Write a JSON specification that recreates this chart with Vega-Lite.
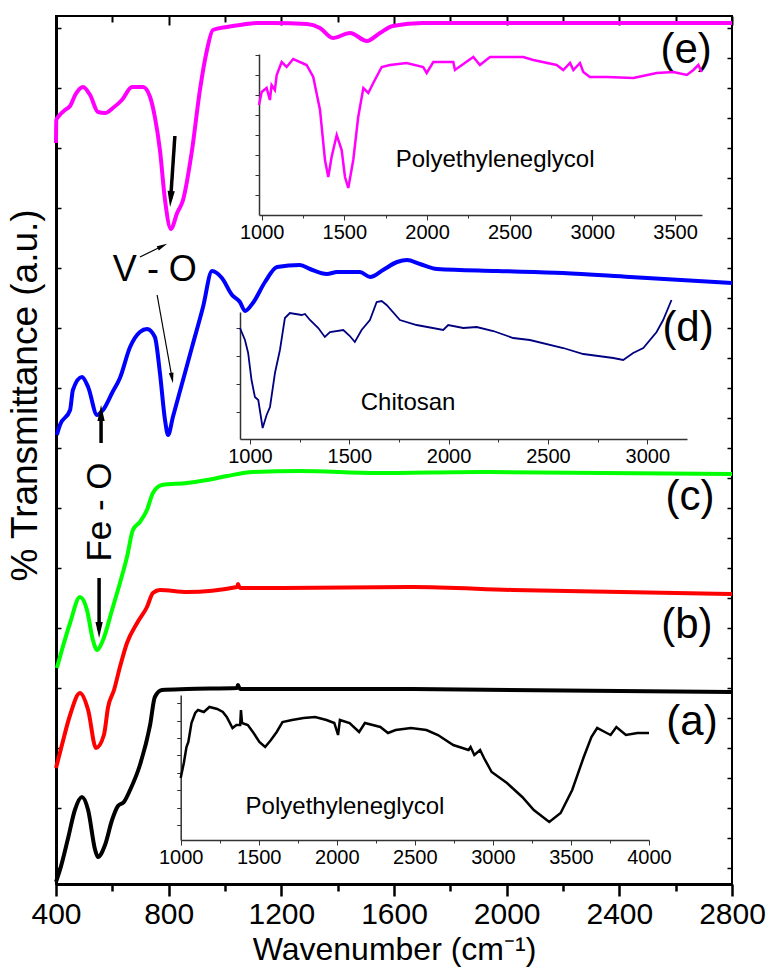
{
  "$schema": "https://vega.github.io/schema/vega-lite/v6.json",
  "width": 676,
  "height": 868,
  "autosize": {"type": "none"},
  "padding": {"left": 56, "top": 16, "right": 41, "bottom": 84},
  "config": {
    "view": {"stroke": "black", "strokeWidth": 2},
    "font": "Liberation Sans",
    "axis": {"grid": false, "domainColor": "black", "tickColor": "black", "labelColor": "black", "titleColor": "black", "labelOverlap": false, "labelFlush": false, "titleFontWeight": "normal"}
  },
  "datasets": {
    "main": [
      {"s":"e","wn":400,"v":741},{"s":"e","wn":401,"v":764},{"s":"e","wn":410,"v":768},{"s":"e","wn":432,"v":774},{"s":"e","wn":450,"v":778},{"s":"e","wn":470,"v":790},{"s":"e","wn":496,"v":797},{"s":"e","wn":521,"v":789},{"s":"e","wn":549,"v":772},{"s":"e","wn":574,"v":771},{"s":"e","wn":602,"v":776},{"s":"e","wn":634,"v":784},{"s":"e","wn":670,"v":797},{"s":"e","wn":709,"v":797},{"s":"e","wn":734,"v":787},{"s":"e","wn":751,"v":767},{"s":"e","wn":769,"v":734},{"s":"e","wn":787,"v":684},{"s":"e","wn":808,"v":655},{"s":"e","wn":830,"v":671},{"s":"e","wn":851,"v":684},{"s":"e","wn":883,"v":734},{"s":"e","wn":911,"v":794},{"s":"e","wn":936,"v":834},{"s":"e","wn":957,"v":854},{"s":"e","wn":1007,"v":857},{"s":"e","wn":1053,"v":859},{"s":"e","wn":1114,"v":861},{"s":"e","wn":1170,"v":861},{"s":"e","wn":1291,"v":860},{"s":"e","wn":1337,"v":856},{"s":"e","wn":1383,"v":846},{"s":"e","wn":1444,"v":851},{"s":"e","wn":1504,"v":843},{"s":"e","wn":1550,"v":851},{"s":"e","wn":1596,"v":858},{"s":"e","wn":1703,"v":861},{"s":"e","wn":2235,"v":861},{"s":"e","wn":2800,"v":861},
      {"s":"d","wn":403,"v":449},{"s":"d","wn":414,"v":459},{"s":"d","wn":450,"v":474},{"s":"d","wn":460,"v":494},{"s":"d","wn":492,"v":507},{"s":"d","wn":514,"v":497},{"s":"d","wn":546,"v":469},{"s":"d","wn":567,"v":474},{"s":"d","wn":599,"v":491},{"s":"d","wn":627,"v":506},{"s":"d","wn":663,"v":537},{"s":"d","wn":698,"v":552},{"s":"d","wn":723,"v":555},{"s":"d","wn":751,"v":547},{"s":"d","wn":769,"v":511},{"s":"d","wn":787,"v":464},{"s":"d","wn":798,"v":449},{"s":"d","wn":815,"v":467},{"s":"d","wn":851,"v":504},{"s":"d","wn":883,"v":537},{"s":"d","wn":922,"v":577},{"s":"d","wn":954,"v":613},{"s":"d","wn":989,"v":606},{"s":"d","wn":1025,"v":589},{"s":"d","wn":1053,"v":582},{"s":"d","wn":1071,"v":573},{"s":"d","wn":1099,"v":581},{"s":"d","wn":1142,"v":602},{"s":"d","wn":1185,"v":617},{"s":"d","wn":1266,"v":619},{"s":"d","wn":1302,"v":615},{"s":"d","wn":1362,"v":610},{"s":"d","wn":1398,"v":612},{"s":"d","wn":1479,"v":612},{"s":"d","wn":1515,"v":607},{"s":"d","wn":1561,"v":614},{"s":"d","wn":1611,"v":622},{"s":"d","wn":1646,"v":624},{"s":"d","wn":1692,"v":620},{"s":"d","wn":1753,"v":615},{"s":"d","wn":1966,"v":613},{"s":"d","wn":2200,"v":611},{"s":"d","wn":2438,"v":607},{"s":"d","wn":2800,"v":601},
      {"s":"c","wn":403,"v":216},{"s":"c","wn":421,"v":234},{"s":"c","wn":450,"v":261},{"s":"c","wn":485,"v":287},{"s":"c","wn":510,"v":274},{"s":"c","wn":531,"v":244},{"s":"c","wn":546,"v":234},{"s":"c","wn":567,"v":244},{"s":"c","wn":599,"v":274},{"s":"c","wn":627,"v":301},{"s":"c","wn":652,"v":327},{"s":"c","wn":673,"v":354},{"s":"c","wn":698,"v":362},{"s":"c","wn":723,"v":374},{"s":"c","wn":744,"v":391},{"s":"c","wn":776,"v":399},{"s":"c","wn":865,"v":401},{"s":"c","wn":936,"v":404},{"s":"c","wn":1007,"v":408},{"s":"c","wn":1099,"v":412},{"s":"c","wn":1266,"v":413},{"s":"c","wn":1540,"v":411},{"s":"c","wn":1905,"v":412},{"s":"c","wn":2800,"v":410},
      {"s":"b","wn":400,"v":116},{"s":"b","wn":421,"v":139},{"s":"b","wn":450,"v":169},{"s":"b","wn":485,"v":191},{"s":"b","wn":514,"v":174},{"s":"b","wn":542,"v":136},{"s":"b","wn":570,"v":149},{"s":"b","wn":585,"v":177},{"s":"b","wn":606,"v":194},{"s":"b","wn":627,"v":217},{"s":"b","wn":652,"v":241},{"s":"b","wn":688,"v":261},{"s":"b","wn":723,"v":277},{"s":"b","wn":744,"v":291},{"s":"b","wn":769,"v":294},{"s":"b","wn":865,"v":292},{"s":"b","wn":1043,"v":297},{"s":"b","wn":1046,"v":300},{"s":"b","wn":1053,"v":296},{"s":"b","wn":1195,"v":296},{"s":"b","wn":1667,"v":297},{"s":"b","wn":2022,"v":294},{"s":"b","wn":2800,"v":290},
      {"s":"a","wn":400,"v":2},{"s":"a","wn":414,"v":14},{"s":"a","wn":443,"v":46},{"s":"a","wn":467,"v":74},{"s":"a","wn":492,"v":87},{"s":"a","wn":514,"v":74},{"s":"a","wn":539,"v":34},{"s":"a","wn":549,"v":27},{"s":"a","wn":574,"v":39},{"s":"a","wn":599,"v":64},{"s":"a","wn":620,"v":78},{"s":"a","wn":641,"v":82},{"s":"a","wn":663,"v":94},{"s":"a","wn":698,"v":119},{"s":"a","wn":734,"v":159},{"s":"a","wn":751,"v":187},{"s":"a","wn":776,"v":194},{"s":"a","wn":865,"v":195},{"s":"a","wn":1043,"v":196},{"s":"a","wn":1046,"v":199},{"s":"a","wn":1053,"v":195},{"s":"a","wn":1667,"v":195},{"s":"a","wn":2800,"v":192}
    ],
    "insetE": [
      {"wn":984,"v":110},{"wn":1000,"v":123},{"wn":1030,"v":127},{"wn":1050,"v":115},{"wn":1060,"v":130},{"wn":1080,"v":125},{"wn":1091,"v":140},{"wn":1121,"v":153},{"wn":1151,"v":148},{"wn":1191,"v":156},{"wn":1272,"v":150},{"wn":1312,"v":138},{"wn":1353,"v":105},{"wn":1383,"v":55},{"wn":1403,"v":38},{"wn":1423,"v":58},{"wn":1454,"v":80},{"wn":1484,"v":65},{"wn":1504,"v":38},{"wn":1524,"v":27},{"wn":1554,"v":55},{"wn":1584,"v":98},{"wn":1615,"v":127},{"wn":1645,"v":122},{"wn":1675,"v":132},{"wn":1726,"v":148},{"wn":1776,"v":150},{"wn":1877,"v":152},{"wn":1977,"v":148},{"wn":1998,"v":142},{"wn":2038,"v":153},{"wn":2159,"v":153},{"wn":2169,"v":145},{"wn":2280,"v":158},{"wn":2320,"v":150},{"wn":2381,"v":158},{"wn":2582,"v":158},{"wn":2643,"v":155},{"wn":2784,"v":150},{"wn":2824,"v":145},{"wn":2865,"v":152},{"wn":2885,"v":145},{"wn":2925,"v":152},{"wn":2945,"v":143},{"wn":2985,"v":138},{"wn":3087,"v":138},{"wn":3248,"v":137},{"wn":3389,"v":142},{"wn":3490,"v":143},{"wn":3571,"v":140},{"wn":3611,"v":145},{"wn":3641,"v":150},{"wn":3661,"v":143}
    ],
    "insetD": [
      {"wn":950,"v":111},{"wn":975,"v":99},{"wn":991,"v":86},{"wn":1008,"v":59},{"wn":1025,"v":42},{"wn":1042,"v":39},{"wn":1064,"v":11},{"wn":1084,"v":24},{"wn":1101,"v":32},{"wn":1126,"v":66},{"wn":1151,"v":89},{"wn":1176,"v":121},{"wn":1201,"v":126},{"wn":1260,"v":124},{"wn":1277,"v":125},{"wn":1302,"v":119},{"wn":1344,"v":111},{"wn":1377,"v":102},{"wn":1403,"v":107},{"wn":1470,"v":109},{"wn":1503,"v":103},{"wn":1528,"v":97},{"wn":1562,"v":109},{"wn":1604,"v":119},{"wn":1638,"v":137},{"wn":1663,"v":138},{"wn":1688,"v":134},{"wn":1755,"v":119},{"wn":1839,"v":114},{"wn":1973,"v":109},{"wn":1998,"v":114},{"wn":2074,"v":111},{"wn":2141,"v":112},{"wn":2225,"v":108},{"wn":2325,"v":101},{"wn":2409,"v":99},{"wn":2577,"v":91},{"wn":2678,"v":85},{"wn":2829,"v":81},{"wn":2879,"v":79},{"wn":2929,"v":86},{"wn":2980,"v":91},{"wn":3047,"v":107},{"wn":3080,"v":119},{"wn":3122,"v":139}
    ],
    "insetA": [
      {"wn":1000,"v":62},{"wn":1020,"v":77},{"wn":1037,"v":93},{"wn":1049,"v":98},{"wn":1069,"v":117},{"wn":1093,"v":127},{"wn":1111,"v":130},{"wn":1148,"v":128},{"wn":1184,"v":133},{"wn":1234,"v":131},{"wn":1270,"v":128},{"wn":1295,"v":123},{"wn":1332,"v":112},{"wn":1357,"v":115},{"wn":1381,"v":115},{"wn":1386,"v":130},{"wn":1393,"v":117},{"wn":1430,"v":115},{"wn":1467,"v":107},{"wn":1504,"v":98},{"wn":1541,"v":93},{"wn":1578,"v":100},{"wn":1615,"v":108},{"wn":1652,"v":118},{"wn":1713,"v":120},{"wn":1787,"v":122},{"wn":1861,"v":123},{"wn":1934,"v":120},{"wn":1984,"v":117},{"wn":2008,"v":105},{"wn":2020,"v":120},{"wn":2082,"v":117},{"wn":2143,"v":108},{"wn":2180,"v":117},{"wn":2279,"v":113},{"wn":2328,"v":107},{"wn":2377,"v":110},{"wn":2475,"v":112},{"wn":2574,"v":110},{"wn":2648,"v":105},{"wn":2746,"v":95},{"wn":2844,"v":90},{"wn":2857,"v":93},{"wn":2881,"v":85},{"wn":2918,"v":90},{"wn":2943,"v":82},{"wn":2992,"v":68},{"wn":3090,"v":57},{"wn":3188,"v":43},{"wn":3262,"v":30},{"wn":3361,"v":18},{"wn":3434,"v":27},{"wn":3508,"v":50},{"wn":3582,"v":83},{"wn":3631,"v":103},{"wn":3668,"v":112},{"wn":3717,"v":108},{"wn":3754,"v":105},{"wn":3791,"v":113},{"wn":3852,"v":105},{"wn":3926,"v":107},{"wn":4000,"v":107}
    ],
    "labels": [
      {"wn":2637,"v":834,"t":"(e)"},{"wn":2644,"v":556,"t":"(d)"},{"wn":2651,"v":387,"t":"(c)"},{"wn":2640,"v":259,"t":"(b)"},{"wn":2658,"v":162,"t":"(a)"}
    ],
    "insetText": [
      {"wn":1959,"v":724,"t":"Polyethyleneglycol"},{"wn":1650,"v":481,"t":"Chitosan"},{"wn":1426,"v":77,"t":"Polyethyleneglycol"}
    ],
    "arrows": [
      {"id":"mag","kind":"thick","wn":822,"v":748,"wn2":807,"v2":685},
      {"id":"fedown","kind":"thick","wn":553,"v":306,"wn2":553,"v2":254},
      {"id":"feup","kind":"thick","wn":560,"v":441,"wn2":560,"v2":471},
      {"id":"voup","kind":"thin","wn":698,"v":627,"wn2":778,"v2":638},
      {"id":"vodown","kind":"thin","wn":759,"v":589,"wn2":812,"v2":506}
    ]
  },
  "layer": [
    {
      "layer": [
        {
          "data": {"name": "main"},
          "mark": {"type": "line", "strokeWidth": 4, "strokeJoin": "round", "interpolate": "monotone"},
          "encoding": {
            "x": {"field": "wn", "type": "quantitative", "scale": {"domain": [400, 2800], "nice": false, "zero": false},
              "axis": {"orient": "bottom", "title": "Wavenumber (cm⁻¹)", "titleFontSize": 32, "titleY": 75, "titleBaseline": "alphabetic", "format": "d",
                "values": [400,600,800,1000,1200,1400,1600,1800,2000,2200,2400,2600,2800],
                "labelExpr": "datum.value % 400 === 0 ? datum.label : ''",
                "labelFontSize": 30, "labelPadding": 3, "domainWidth": 3, "tickWidth": 2.5,
                "tickSize": {"condition": {"test": "datum.value % 400 === 0", "value": 12}, "value": 7}}},
            "y": {"field": "v", "type": "quantitative", "scale": {"domain": [0, 868], "nice": false, "zero": false},
              "axis": {"orient": "left", "labels": false, "title": "% Transmittance (a.u.)", "titleFontSize": 37,
                "titleX": -31, "titleY": 379, "titleAngle": 270, "titleAlign": "center", "titleBaseline": "middle",
                "values": [16,46,76,106,136,166,196,226,256,286,316,346,376,406,436,466,496,526,556,586,616,646,676,706,736,766,796,826,856],
                "tickSize": -5, "tickWidth": 1.5, "domainWidth": 3}},
            "color": {"field": "s", "type": "nominal", "scale": {"domain": ["a","b","c","d","e"], "range": ["#000000","#ff0000","#00ff00","#0000ff","#ff00ff"]}, "legend": null},
            "detail": {"field": "s"}
          }
        },
        {
          "data": {"name": "labels"},
          "mark": {"type": "text", "fontSize": 42, "align": "center", "baseline": "middle", "color": "black"},
          "encoding": {"x": {"field": "wn", "type": "quantitative"}, "y": {"field": "v", "type": "quantitative"}, "text": {"field": "t"}}
        },
        {
          "data": {"values": [{"wn": 751, "v": 614, "t": "V - O"}]},
          "mark": {"type": "text", "fontSize": 36, "align": "center", "baseline": "middle", "color": "black"},
          "encoding": {"x": {"field": "wn", "type": "quantitative"}, "y": {"field": "v", "type": "quantitative"}, "text": {"field": "t"}}
        },
        {
          "data": {"values": [{"wn": 556, "v": 372, "t": "Fe - O"}]},
          "mark": {"type": "text", "fontSize": 35, "align": "center", "baseline": "middle", "angle": 270, "color": "black"},
          "encoding": {"x": {"field": "wn", "type": "quantitative"}, "y": {"field": "v", "type": "quantitative"}, "text": {"field": "t"}}
        },
        {
          "data": {"name": "insetText"},
          "mark": {"type": "text", "fontSize": 24, "align": "center", "baseline": "middle", "color": "black"},
          "encoding": {"x": {"field": "wn", "type": "quantitative"}, "y": {"field": "v", "type": "quantitative"}, "text": {"field": "t"}}
        },
        {
          "data": {"name": "arrows"},
          "transform": [{"filter": "datum.kind === 'thick'"}],
          "mark": {"type": "rule", "strokeWidth": 3.5, "color": "black"},
          "encoding": {"x": {"field": "wn", "type": "quantitative"}, "y": {"field": "v", "type": "quantitative"}, "x2": {"field": "wn2"}, "y2": {"field": "v2"}}
        },
        {
          "data": {"name": "arrows"},
          "transform": [{"filter": "datum.kind === 'thin'"}],
          "mark": {"type": "rule", "strokeWidth": 1.2, "color": "black"},
          "encoding": {"x": {"field": "wn", "type": "quantitative"}, "y": {"field": "v", "type": "quantitative"}, "x2": {"field": "wn2"}, "y2": {"field": "v2"}}
        },
        {
          "data": {"name": "arrows"},
          "transform": [{"filter": "datum.id === 'mag'"}],
          "mark": {"type": "point", "shape": "M-0.45,-1L0.45,-1L0,1Z", "filled": true, "color": "black", "opacity": 1, "size": 260, "angle": 4},
          "encoding": {"x": {"field": "wn2", "type": "quantitative"}, "y": {"field": "v2", "type": "quantitative"}}
        },
        {
          "data": {"name": "arrows"},
          "transform": [{"filter": "datum.id === 'fedown'"}],
          "mark": {"type": "point", "shape": "M-0.45,-1L0.45,-1L0,1Z", "filled": true, "color": "black", "opacity": 1, "size": 260},
          "encoding": {"x": {"field": "wn2", "type": "quantitative"}, "y": {"field": "v2", "type": "quantitative"}}
        },
        {
          "data": {"name": "arrows"},
          "transform": [{"filter": "datum.id === 'feup'"}],
          "mark": {"type": "point", "shape": "M-0.45,1L0.45,1L0,-1Z", "filled": true, "color": "black", "opacity": 1, "size": 260},
          "encoding": {"x": {"field": "wn2", "type": "quantitative"}, "y": {"field": "v2", "type": "quantitative"}}
        },
        {
          "data": {"name": "arrows"},
          "transform": [{"filter": "datum.id === 'voup'"}],
          "mark": {"type": "point", "shape": "M-0.45,1L0.45,1L0,-1Z", "filled": true, "color": "black", "opacity": 1, "size": 110, "angle": 64},
          "encoding": {"x": {"field": "wn2", "type": "quantitative"}, "y": {"field": "v2", "type": "quantitative"}}
        },
        {
          "data": {"name": "arrows"},
          "transform": [{"filter": "datum.id === 'vodown'"}],
          "mark": {"type": "point", "shape": "M-0.45,1L0.45,1L0,-1Z", "filled": true, "color": "black", "opacity": 1, "size": 110, "angle": 170},
          "encoding": {"x": {"field": "wn2", "type": "quantitative"}, "y": {"field": "v2", "type": "quantitative"}}
        }
      ]
    },
    {
      "data": {"values": [{"wn": 400, "v": 0}, {"wn": 2800, "v": 868}]},
      "mark": {"type": "point", "opacity": 0},
      "encoding": {
        "x": {"field": "wn", "type": "quantitative", "scale": {"domain": [400, 2800], "nice": false, "zero": false},
          "axis": {"orient": "top", "labels": false, "domain": false, "title": null, "values": [400,600,800,1000,1200,1400,1600,1800,2000,2200,2400,2600,2800], "tickWidth": 2,
            "tickSize": {"condition": {"test": "datum.value % 400 === 0", "value": -9}, "value": -6}}},
        "y": {"field": "v", "type": "quantitative", "scale": {"domain": [0, 868], "nice": false, "zero": false},
          "axis": {"orient": "right", "labels": false, "domain": false, "title": null, "tickSize": -5, "tickWidth": 1.5,
            "values": [16,46,76,106,136,166,196,226,256,286,316,346,376,406,436,466,496,526,556,586,616,646,676,706,736,766,796,826,856]}}
      }
    },
    {
      "data": {"name": "insetE"},
      "mark": {"type": "line", "color": "#ff00ff", "strokeWidth": 2.5},
      "encoding": {
        "x": {"field": "wn", "type": "quantitative", "scale": {"domain": [984, 3663], "range": [203, 646], "nice": false, "zero": false},
          "axis": {"orient": "bottom", "offset": -669, "title": null, "format": "d", "values": [1000,1250,1500,1750,2000,2250,2500,2750,3000,3250,3500],
            "labelExpr": "datum.value % 500 === 0 ? datum.label : ''", "labelFontSize": 20, "labelPadding": 2, "domainColor": "#333", "tickColor": "#333", "domainWidth": 1.5,
            "tickSize": {"condition": {"test": "datum.value % 500 === 0", "value": 5}, "value": 3}}},
        "y": {"field": "v", "type": "quantitative", "scale": {"domain": [0, 161], "range": [199, 38], "nice": false, "zero": false},
          "axis": {"orient": "left", "offset": -203, "title": null, "labels": false, "values": [20,40,60,80,100,120,140,160], "tickSize": 4, "domainColor": "#333", "tickColor": "#333", "domainWidth": 1.5}}
      }
    },
    {
      "data": {"name": "insetD"},
      "mark": {"type": "line", "color": "#000080", "strokeWidth": 1.8},
      "encoding": {
        "x": {"field": "wn", "type": "quantitative", "scale": {"domain": [950, 3200], "range": [184, 631], "nice": false, "zero": false},
          "axis": {"orient": "bottom", "offset": -445, "title": null, "format": "d", "values": [1000,1250,1500,1750,2000,2250,2500,2750,3000],
            "labelExpr": "datum.value % 500 === 0 ? datum.label : ''", "labelFontSize": 20, "labelPadding": 2, "domainColor": "#333", "tickColor": "#333", "domainWidth": 1.5,
            "tickSize": {"condition": {"test": "datum.value % 500 === 0", "value": 5}, "value": 3}}},
        "y": {"field": "v", "type": "quantitative", "scale": {"domain": [0, 127], "range": [423, 296], "nice": false, "zero": false},
          "axis": {"orient": "left", "offset": -184, "title": null, "labels": false, "values": [27,55,83,111], "tickSize": 4, "domainColor": "#333", "tickColor": "#333", "domainWidth": 1.5}}
      }
    },
    {
      "data": {"name": "insetA"},
      "mark": {"type": "line", "color": "#000000", "strokeWidth": 2.5},
      "encoding": {
        "x": {"field": "wn", "type": "quantitative", "scale": {"domain": [1000, 4000], "range": [124.7, 593], "nice": false, "zero": false},
          "axis": {"orient": "bottom", "offset": -44, "title": null, "format": "d", "values": [1000,1250,1500,1750,2000,2250,2500,2750,3000,3250,3500,3750,4000],
            "labelExpr": "datum.value % 500 === 0 ? datum.label : ''", "labelFontSize": 20, "labelPadding": 2, "domainColor": "#333", "tickColor": "#333", "domainWidth": 1.5,
            "tickSize": {"condition": {"test": "datum.value % 500 === 0", "value": 5}, "value": 3}}},
        "y": {"field": "v", "type": "quantitative", "scale": {"domain": [0, 145], "range": [824, 679], "nice": false, "zero": false},
          "axis": {"orient": "left", "offset": -124.7, "title": null, "labels": false, "values": [15,32,50,67,85,102,119,137], "tickSize": 4, "domainColor": "#333", "tickColor": "#333", "domainWidth": 1.5}}
      }
    }
  ],
  "resolve": {"scale": {"x": "independent", "y": "independent"}, "axis": {"x": "independent", "y": "independent"}}
}
